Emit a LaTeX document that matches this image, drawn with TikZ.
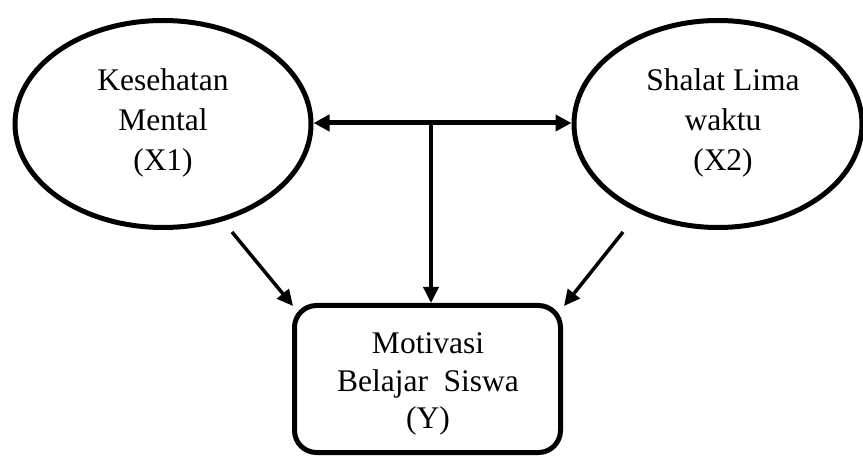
\documentclass[tikz,border=0pt]{standalone}
\usepackage{fontspec}
\setmainfont{Liberation Serif}
\usetikzlibrary{shapes.geometric,arrows.meta}
\begin{document}
\begin{tikzpicture}[x=1pt,y=-1pt,
  every node/.style={font=\fontsize{31.5}{40}\selectfont, align=center, inner sep=0pt},
  varell/.style={draw, ellipse, line width=5pt, minimum height=207pt},
  depbox/.style={draw, rectangle, rounded corners=22pt, line width=5pt, minimum width=266pt, minimum height=147pt},
  arr/.style={line width=3.5pt, -{Triangle[length=16pt,width=15pt]}},
  dblarr/.style={line width=5pt, {Triangle[length=16pt,width=16pt]}-{Triangle[length=16pt,width=16pt]}}
]
\useasboundingbox (0,0) rectangle (863,457);
\node[varell, minimum width=296pt] (X1) at (163,124) {};
\node[varell, minimum width=288pt] (X2) at (718,124) {};
\node (t1) at (163,123) {Kesehatan\\Mental\\(X1)};
\node (t2) at (723,123) {Shalat Lima\\waktu\\(X2)};
\node[depbox] (Y) at (427.5,379) {};
\node[font=\fontsize{31.5}{37.5}\selectfont] (ty) at (428,384) {Motivasi\\Belajar~ Siswa\\(Y)};
\coordinate (j) at (431,123);
\coordinate (l1) at (232,232);
\coordinate (l2) at (293,306);
\coordinate (r1) at (623,232);
\coordinate (r2) at (564,306);
\draw[dblarr] (X1.east |- j) -- (X2.west |- j);
\draw[arr] (j) -- (j |- Y.north);
\draw[arr] (l1) -- (l2);
\draw[arr] (r1) -- (r2);
\end{tikzpicture}
\end{document}
